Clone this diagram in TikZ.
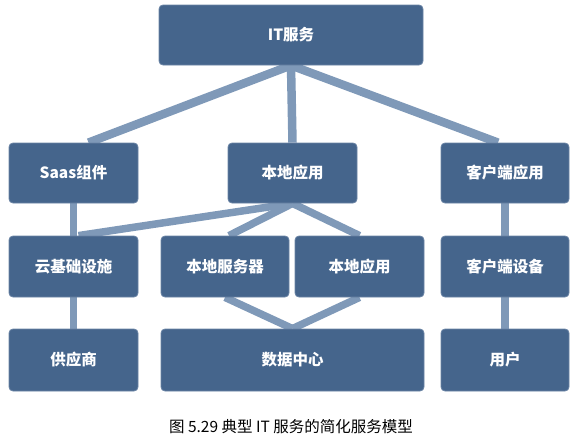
\documentclass[tikz,border=0pt]{standalone}
\usepackage{fontspec}
\setmainfont{Noto Sans CJK SC}
\usetikzlibrary{backgrounds}
\definecolor{boxfill}{HTML}{45658C}
\definecolor{boxedge}{HTML}{6A84A5}
\definecolor{linkc}{HTML}{7F99B8}
\tikzset{
  x=1pt, y=-1pt,
  box/.style={fill=boxfill, draw=boxedge, line width=0.8pt, rounded corners=4pt,
    text=white, font=\fontsize{15.5}{17}\selectfont\bfseries, inner sep=0pt,
    minimum height=60pt},
  link/.style={draw=linkc, line width=7.5pt},
  toplink/.style={draw=linkc, line width=8.5pt}
}
\begin{document}
\begin{tikzpicture}
\useasboundingbox (0,0) rectangle (587,447);
% row 0
\node[box, minimum width=264pt] (it) at (291,35) {IT服务};
% row 1
\node[box, minimum width=129pt] (saas) at (73.5,173) {Saas组件};
\node[box, minimum width=129pt] (local) at (292.5,173) {本地应用};
\node[box, minimum width=128pt] (client) at (505,173) {客户端应用};
% row 2
\node[box, minimum width=129pt, minimum height=61pt] (cloud) at (73.5,266.5) {云基础设施};
\node[box, minimum width=128pt, minimum height=61pt] (server) at (225,266.5) {本地服务器};
\node[box, minimum width=129pt, minimum height=61pt] (localb) at (359.5,266.5) {本地应用};
\node[box, minimum width=128pt, minimum height=61pt] (device) at (505,266.5) {客户端设备};
% row 3
\node[box, minimum width=129pt, minimum height=62pt] (vendor) at (73.5,360) {供应商};
\node[box, minimum width=263pt, minimum height=62pt] (dc) at (292.5,360) {数据中心};
\node[box, minimum width=128pt, minimum height=62pt] (user) at (505,360) {用户};
% caption
\node[font=\fontsize{15.5}{17}\selectfont, text=black, inner sep=0pt] (cap) at (291,427) {图 5.29 典型 IT 服务的简化服务模型};
\begin{scope}[on background layer]
\draw[toplink] (it.south) -- ([xshift=15pt]saas.north);
\draw[toplink] (it.south) -- (local.north);
\draw[toplink] (it.south) -- ([xshift=-7pt]client.north);
\draw[link] (saas.south) -- (cloud.north);
\draw[link] (local.south) -- ([xshift=5pt]cloud.north);
\draw[link] (local.south) -- ([xshift=4pt]server.north);
\draw[link] (local.south) -- (localb.north);
\draw[link] (cloud.south) -- (vendor.north);
\draw[link] (server.south) -- (dc.north);
\draw[link] (localb.south) -- (dc.north);
\draw[link] (client.south) -- (device.north);
\draw[link] (device.south) -- (user.north);
\end{scope}
\end{tikzpicture}
\end{document}
